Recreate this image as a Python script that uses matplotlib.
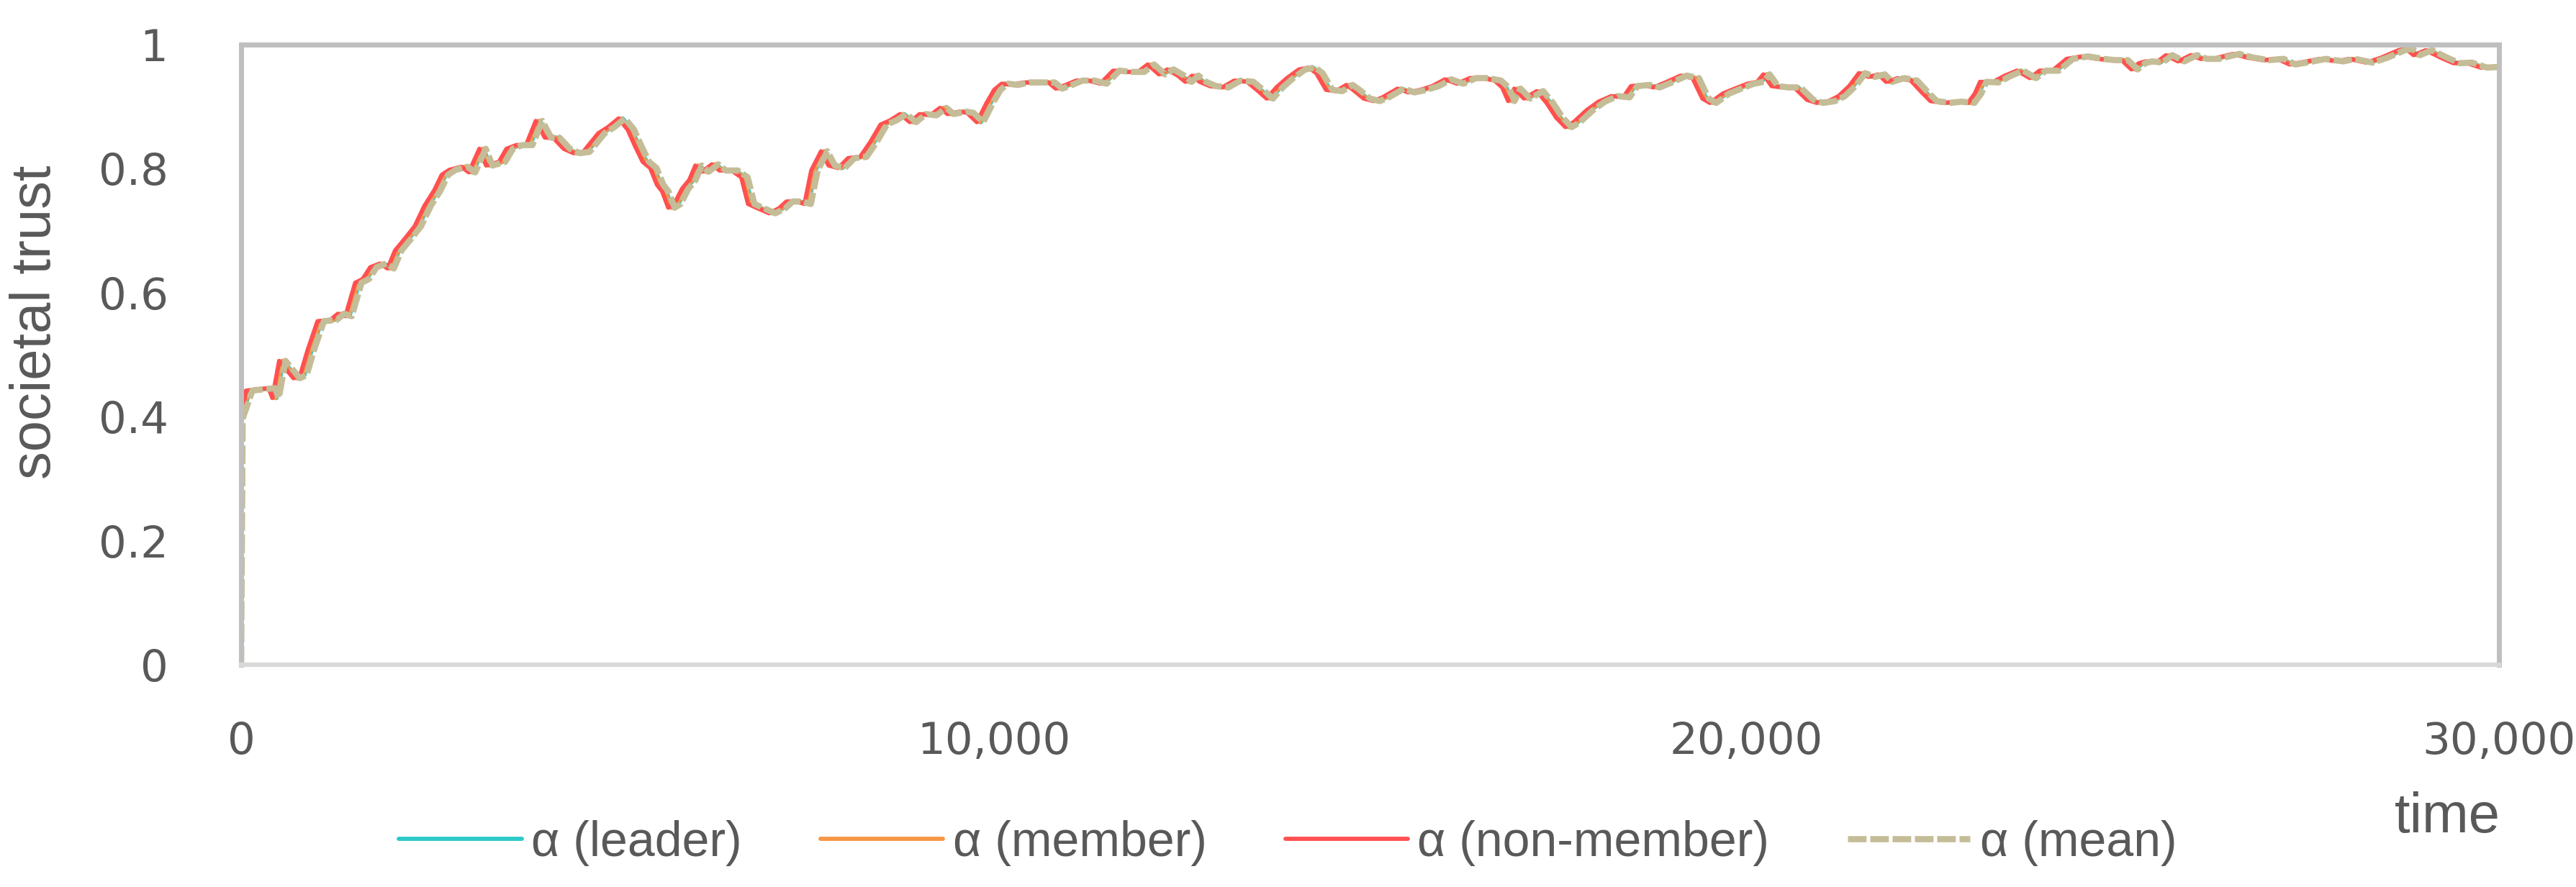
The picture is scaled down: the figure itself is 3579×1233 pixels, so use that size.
import matplotlib
matplotlib.use("Agg")
import matplotlib.pyplot as plt
import numpy as np

plt.rcParams['font.family'] = ['Liberation Sans', 'DejaVu Sans']

# societal trust over time
time = [20, 150, 280, 450, 500, 590, 780, 870, 970, 1100, 1270, 1370, 1470, 1600, 1700,
        1800, 1930, 2030, 2130, 2260, 2390, 2520, 2650, 2750, 2850, 3010, 3110, 3250, 3340,
        3510, 3610, 3740, 3870, 4000, 4120, 4230, 4370, 4500, 4630, 4830, 4960, 5100,
        5220, 5320, 5420, 5520, 5610, 5680, 5760, 5840, 5940, 6040, 6120, 6210, 6340, 6440,
        6600, 6730, 6820, 6930, 7100, 7230, 7330, 7460, 7570, 7660, 7790, 7890, 8020, 8150,
        8310, 8450, 8580, 8710, 8840, 8970, 9100, 9240, 9370, 9470, 9630, 9730, 9860, 9990,
        10090, 10190, 10320, 10480, 10650, 10810, 10910, 11040, 11180, 11340, 11500, 11670,
        11830, 12000, 12130, 12280, 12390, 12530, 12630, 12720, 12820, 12960, 13120, 13280,
        13450, 13580, 13710, 13840, 13980, 14140, 14270, 14370, 14500, 14630, 14770, 14860,
        15000, 15130, 15250, 15450, 15590, 15750, 15910, 16080, 16240, 16410, 16570, 16740,
        16840, 16920, 17000, 17130, 17300, 17430, 17560, 17680, 17790, 17960, 18120, 18290,
        18450, 18550, 18710, 18850, 19010, 19210, 19370, 19500, 19600, 19770, 19930, 20100,
        20230, 20310, 20420, 20560, 20720, 20890, 21020, 21180, 21310, 21450, 21580, 21710,
        21840, 21940, 22100, 22270, 22400, 22530, 22700, 22860, 23030, 23120, 23190, 23350,
        23520, 23680, 23850, 23980, 24150, 24340, 24540, 24740, 24900, 25070, 25200, 25300,
        25390, 25530, 25660, 25820, 25990, 26120, 26280, 26550, 26740, 26940, 27140, 27300,
        27530, 27700, 27930, 28090, 28320, 28520, 28750, 28850, 28950, 29110, 29310, 29480,
        29640, 29840, 30000]
trust = [0.397, 0.442, 0.444, 0.446, 0.430, 0.490, 0.462, 0.467, 0.508, 0.554, 0.556, 0.566,
         0.562, 0.616, 0.622, 0.641, 0.647, 0.639, 0.668, 0.687, 0.707, 0.740, 0.765, 0.790,
         0.798, 0.803, 0.794, 0.832, 0.805, 0.811, 0.832, 0.838, 0.838, 0.877, 0.850, 0.850,
         0.832, 0.825, 0.827, 0.857, 0.867, 0.881,
         0.863, 0.836, 0.811, 0.801, 0.774, 0.763, 0.737, 0.743, 0.767, 0.782, 0.805, 0.795,
         0.807, 0.797, 0.797, 0.786, 0.743, 0.737, 0.728, 0.736, 0.747, 0.747, 0.743, 0.797,
         0.828, 0.805, 0.801, 0.817, 0.819, 0.844, 0.871, 0.878, 0.888, 0.875, 0.888, 0.886,
         0.898, 0.888, 0.892, 0.890, 0.875, 0.906, 0.927, 0.937,
         0.935, 0.939, 0.939, 0.939, 0.929, 0.935, 0.942, 0.942, 0.937, 0.958, 0.956, 0.956,
         0.968, 0.952, 0.960, 0.950, 0.940, 0.950, 0.940, 0.933, 0.931, 0.942, 0.940, 0.927,
         0.913, 0.931, 0.946, 0.960, 0.963, 0.954, 0.927, 0.925, 0.935, 0.927, 0.913, 0.909,
         0.915, 0.929, 0.923, 0.927, 0.933, 0.944, 0.937, 0.946, 0.946, 0.942, 0.931, 0.909,
         0.929, 0.913, 0.925, 0.906, 0.882, 0.867, 0.875, 0.894, 0.908, 0.917, 0.915, 0.933,
         0.935, 0.931, 0.939, 0.950, 0.946, 0.913, 0.906, 0.921, 0.929, 0.937,
         0.940, 0.952, 0.933, 0.931, 0.931, 0.911, 0.906, 0.909, 0.917, 0.933, 0.954, 0.948,
         0.952, 0.940, 0.946, 0.942, 0.925, 0.909, 0.906, 0.908, 0.906, 0.921, 0.940, 0.939,
         0.950, 0.958, 0.946, 0.958, 0.958, 0.977, 0.981, 0.977, 0.975, 0.975, 0.960, 0.970,
         0.973, 0.971, 0.983, 0.973, 0.983, 0.977, 0.977, 0.985, 0.979, 0.975, 0.977, 0.968,
         0.973, 0.977, 0.973, 0.977, 0.971, 0.979, 0.991, 0.993, 0.983, 0.991, 0.979, 0.970,
         0.971, 0.963, 0.964]

labels = ['α (leader)', 'α (member)', 'α (non-member)', 'α (mean)']
colors = ['#2EC9C9', '#F79646', '#FF5050', '#C4BD97']
lags = [-30, -45, -85, 0]   # small lead of each series relative to the mean

t = np.array(time, dtype=float)
v = np.array(trust)

fig = plt.figure(figsize=(35.79, 12.33), dpi=100)
ax = fig.add_axes([0.0936, 0.2506, 0.8765, 0.6991])

for i in range(3):
    tt = np.concatenate([[0], np.clip(t + lags[i], 0, 30000)])
    vv = np.concatenate([[v[0]], v])
    ax.plot(tt, vv, color=colors[i], lw=4.2, label=labels[i], solid_capstyle='round')
# mean starts from zero
ax.plot(np.concatenate([[0], t]), np.concatenate([[0.0], v]), color=colors[3], lw=6.2,
        dashes=(3.0, 0.6), dash_capstyle='butt', label=labels[3])

ax.set_xlim(0, 30000)
ax.set_ylim(0, 1)
ax.set_xticks([0, 10000, 20000, 30000])
ax.set_xticklabels(['0', '10,000', '20,000', '30,000'], family='DejaVu Sans')
ax.set_yticks([0, 0.2, 0.4, 0.6, 0.8, 1.0])
ax.set_yticklabels(['0', '0.2', '0.4', '0.6', '0.8', '1'], family='DejaVu Sans')
ax.tick_params(axis='both', length=0, labelsize=44, colors='#595959')
ax.tick_params(axis='y', pad=73)
ax.tick_params(axis='x', pad=56)

for s in ['top', 'left', 'right']:
    ax.spines[s].set_color('#BFBFBF')
    ax.spines[s].set_linewidth(5)
ax.spines['bottom'].set_color('#D9D9D9')
ax.spines['bottom'].set_linewidth(4.5)

fig.text(50 / 3579, 0.6367, 'societal trust', rotation=90, ha='center', va='center',
         fontsize=56, color='#595959')
fig.text(3474 / 3579, 0.0779, 'time', ha='right', va='center', fontsize=56, color='#595959')

leg = fig.legend(loc='center', bbox_to_anchor=(0.5, 0.0495), ncol=4, frameon=False,
                 fontsize=49, handlelength=2.5, handletextpad=0.2, columnspacing=1.6,
                 labelcolor='#595959')

fig.savefig('out.png', dpi=100)
